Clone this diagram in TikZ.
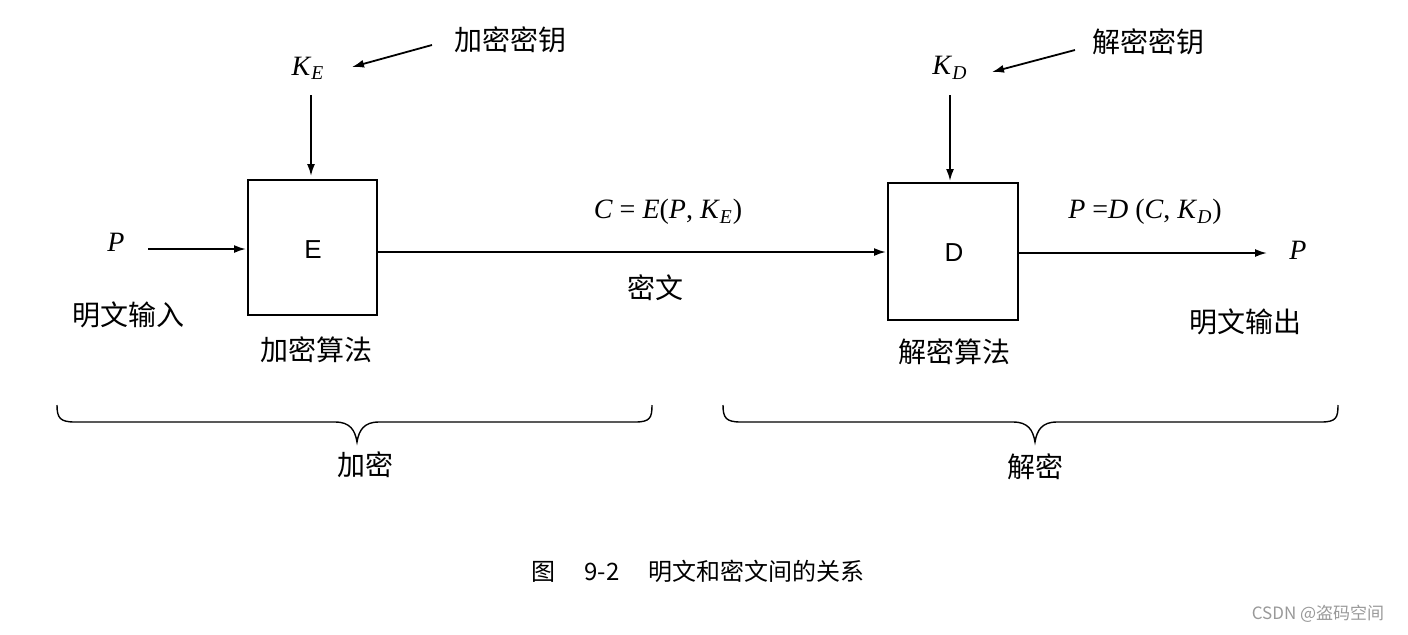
\documentclass[tikz,border=0pt]{standalone}
\usepackage{fontspec}
\usetikzlibrary{arrows.meta}
\setmainfont{Liberation Serif}
\newfontfamily\cjk{Noto Sans CJK SC}
\newfontfamily\sans{Liberation Sans}
\newcommand{\Ksub}[1]{\textit{K}\textsubscript{\textit{#1}}}
\begin{document}
\begin{tikzpicture}[x=0.5pt,y=-0.5pt,
  lab/.style={inner sep=0pt,font=\fontsize{14}{16}\selectfont},
  zh/.style={inner sep=0pt,font=\cjk\fontsize{14}{16}\selectfont},
  box/.style={draw,line width=1pt},
  arr/.style={-{Latex[length=6pt,width=4pt]},line width=0.9pt},
  br/.style={line width=0.7pt}]
\useasboundingbox (0,0) rectangle (1408,634);
\draw[box] (248,180) rectangle (377,315);
\node[lab,font=\sans\fontsize{13}{15}\selectfont] (E) at (313,250) {E};
\draw[box] (888,183) rectangle (1018,320);
\node[lab,font=\sans\fontsize{13}{15}\selectfont] (D) at (954,253) {D};
\node[lab] (KE) at (308,68) {\Ksub{E}};
\node[zh] (kek) at (510,40) {加密密钥};
\draw[arr] (432,45) -- (352,67);
\draw[arr] (311,95) -- (311,176);
\node[lab] (KD) at (950,68) {\Ksub{D}};
\node[zh] (kdk) at (1148,42) {解密密钥};
\draw[arr] (1075,50) -- (992,72);
\draw[arr] (950,95) -- (950,181);
\node[lab] (P1) at (116,242) {\textit{P}};
\draw[arr] (148,249) -- (246,249);
\node[zh] at (128,315) {明文输入};
\node[zh] at (316,350) {加密算法};
\draw[arr] (378,252) -- (886,252);
\node[lab] at (668,212) {\textit{C} = \textit{E}(\textit{P}, \Ksub{E})};
\node[zh] at (655,288) {密文};
\node[zh] at (954,352) {解密算法};
\draw[arr] (1018,253) -- (1267,253);
\node[lab] at (1145,212) {\textit{P} =\textit{D} (\textit{C}, \Ksub{D})};
\node[lab] (P2) at (1298,250) {\textit{P}};
\node[zh] at (1245,322) {明文输出};
\draw[br] (57,405) .. controls (57,418) and (60,422) .. (75,422) -- (335,422)
  .. controls (350,422) and (355,430) .. (357,442) .. controls (359,430) and (364,422) .. (379,422)
  -- (635,422) .. controls (650,422) and (652,418) .. (652,405);
\node[zh] at (365,465) {加密};
\draw[br] (723,405) .. controls (723,418) and (726,422) .. (741,422) -- (1013,422)
  .. controls (1028,422) and (1033,430) .. (1035,442) .. controls (1037,430) and (1042,422) .. (1057,422)
  -- (1321,422) .. controls (1336,422) and (1338,418) .. (1338,405);
\node[zh] at (1035,467) {解密};
\node[zh,font=\cjk\fontsize{12}{14}\selectfont] at (698,571) {图\hspace{1.2em}9-2\hspace{1.2em}明文和密文间的关系};
\node[inner sep=0pt,text=gray!80,font=\cjk\fontsize{8.5}{10}\selectfont] at (1318,614) {CSDN @盗码空间};
\end{tikzpicture}
\end{document}
